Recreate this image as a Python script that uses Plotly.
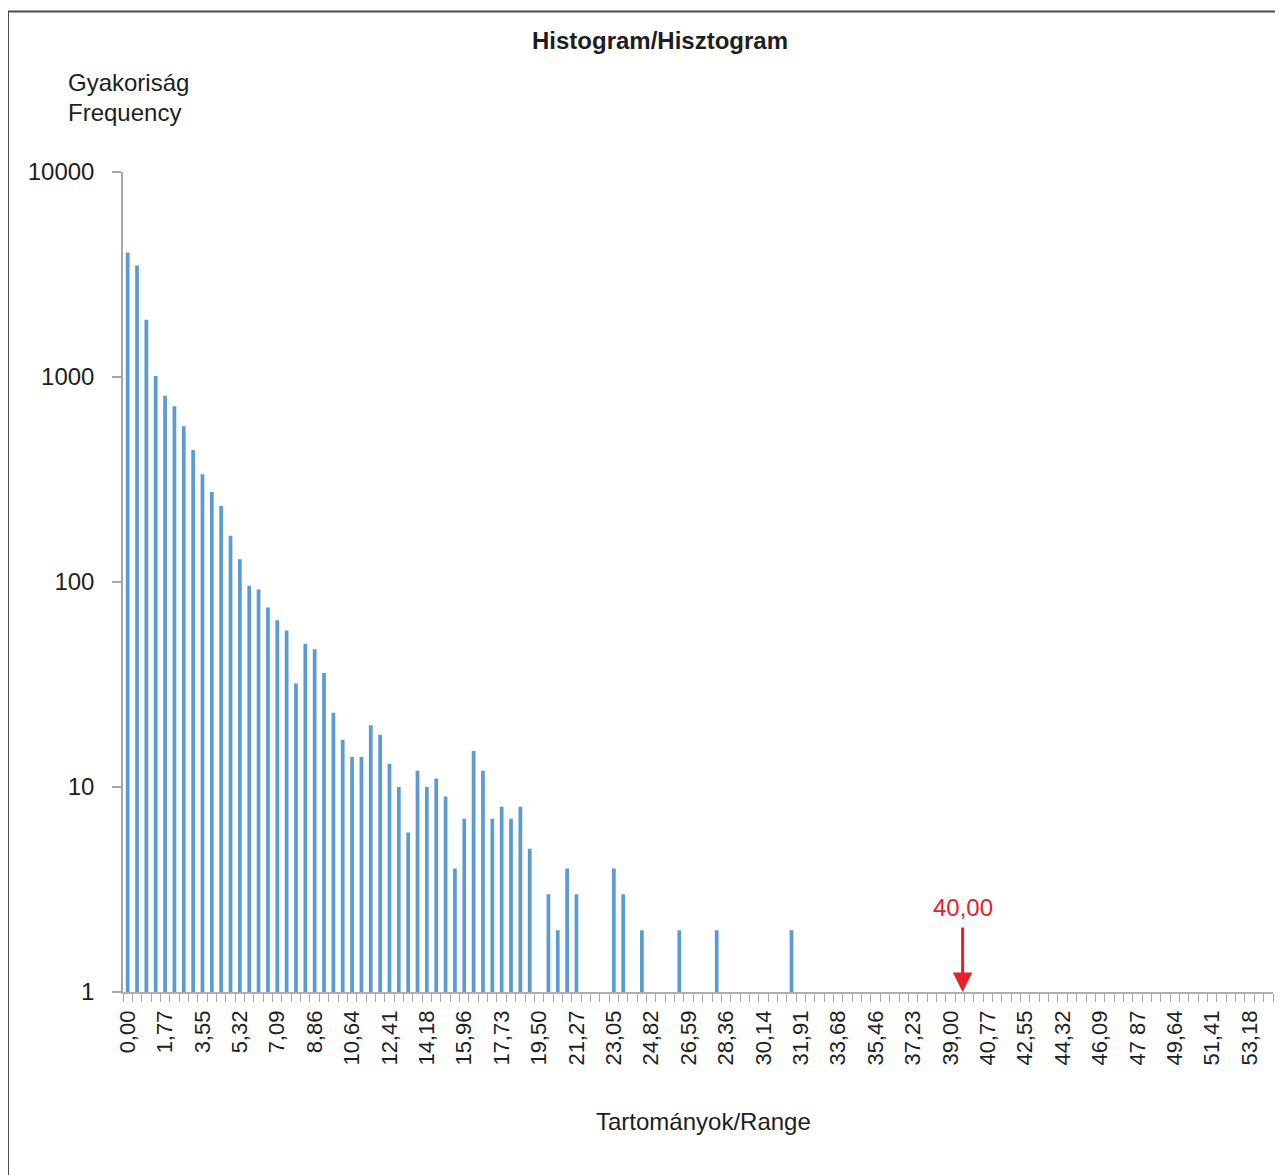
import plotly.graph_objects as go

# ---- data ----
frequencies = [
    4050, 3500, 1900, 1010, 810, 720, 575, 440, 335, 275,
    235, 168, 129, 96, 92, 75, 65, 58, 32, 50,
    47, 36, 23, 17, 14, 14, 20, 18, 13, 10,
    6, 12, 10, 11, 9, 4, 7, 15, 12, 7,
    8, 7, 8, 5, 0, 3, 2, 4, 3, 0,
    0, 0, 4, 3, 0, 2, 0, 0, 0, 2,
    0, 0, 0, 2, 0, 0, 0, 0, 0, 0,
    0, 2, 0, 0, 0, 0, 0, 0, 0, 0,
    0, 0, 0, 0, 0, 0, 0, 0, 0, 0,
    0, 0, 0, 0, 0, 0, 0, 0, 0, 0,
    0, 0, 0, 0, 0, 0, 0, 0, 0, 0,
    0, 0, 0, 0, 0, 0, 0, 0, 0, 0,
    0, 0, 0,
]
tick_labels = ["0,00", "1,77", "3,55", "5,32", "7,09", "8,86", "10,64", "12,41",
               "14,18", "15,96", "17,73", "19,50", "21,27", "23,05", "24,82",
               "26,59", "28,36", "30,14", "31,91", "33,68", "35,46", "37,23",
               "39,00", "40,77", "42,55", "44,32", "46,09", "47 87", "49,64",
               "51,41", "53,18"]
label_every = 4
y_ticks = [1, 10, 100, 1000, 10000]
marker_label = "40,00"
marker_bin = 89.3  # position of 40,00 on the bin axis

title_text = "Histogram/Hisztogram"
y_title_lines = ["Gyakoriság", "Frequency"]
x_title = "Tartományok/Range"

# ---- layout geometry (pixels, in page coordinates; page body adds 8px offset) ----
OFF = 8
FW, FH = 1283 - OFF, 1175 - OFF
PLOT_L, PLOT_R, PLOT_T, PLOT_B = 123, 1273, 172, 992
L = PLOT_L - OFF
T = PLOT_T - OFF
R = FW - (PLOT_R - OFF)
B = FH - (PLOT_B - OFF)
PW, PH = PLOT_R - PLOT_L, PLOT_B - PLOT_T


def px(x):
    return (x - PLOT_L) / PW


def py(y):
    return (PLOT_B - y) / PH


FONT = "Liberation Sans, Arial, Helvetica, sans-serif"
TXT = "#1e1e1e"

bins = list(range(len(frequencies)))
yvals = [v if v > 0 else None for v in frequencies]

fig = go.Figure()
fig.add_trace(go.Bar(
    x=bins, y=yvals, width=0.4,
    marker=dict(color="#5b9bd5", line=dict(width=0)),
    hoverinfo="x+y", showlegend=False,
))

fig.update_layout(
    width=FW, height=FH,
    margin=dict(l=L, r=R, t=T, b=B, pad=0),
    paper_bgcolor="white", plot_bgcolor="white",
    font=dict(family=FONT, color=TXT),
    xaxis=dict(
        range=[-0.5, len(frequencies) - 0.5],
        tickmode="array",
        tickvals=[i * label_every for i in range(len(tick_labels))],
        ticktext=tick_labels,
        tickangle=-90,
        tickfont=dict(size=22, color=TXT),
        ticks="outside", ticklen=8, tickcolor="rgba(0,0,0,0)",
        minor=dict(tick0=0.5, dtick=1, ticks="outside", ticklen=8,
                   tickcolor="#a6a6a6", tickwidth=1, showgrid=False),
        showline=True, linecolor="#b0b0b0", linewidth=1.5,
        showgrid=False, zeroline=False, fixedrange=True,
    ),
    yaxis=dict(
        type="log", range=[0, 4],
        tickmode="array", tickvals=y_ticks, ticktext=[str(v) for v in y_ticks],
        tickfont=dict(size=24, color=TXT),
        ticks="outside", ticklen=9, tickcolor="#a6a6a6", tickwidth=1.5,
        ticklabelstandoff=13,
        showline=True, linecolor="#a6a6a6", linewidth=1.5,
        showgrid=False, zeroline=False, fixedrange=True,
    ),
    bargap=0.6,
)

annotations = [
    dict(text="<b>" + title_text + "</b>", x=px(660), y=py(40), xref="paper", yref="paper",
         xanchor="center", yanchor="middle", showarrow=False,
         font=dict(size=24, color=TXT, family=FONT)),
    dict(text=y_title_lines[0], x=px(66), y=py(83), xref="paper", yref="paper",
         xanchor="left", yanchor="middle", showarrow=False,
         font=dict(size=24, color=TXT, family=FONT)),
    dict(text=y_title_lines[1], x=px(66), y=py(113), xref="paper", yref="paper",
         xanchor="left", yanchor="middle", showarrow=False,
         font=dict(size=24, color=TXT, family=FONT)),
    dict(text=x_title, x=px(703), y=py(1121), xref="paper", yref="paper",
         xanchor="center", yanchor="middle", showarrow=False,
         font=dict(size=24, color=TXT, family=FONT)),
    dict(text=marker_label, x=marker_bin, y=py(907), xref="x", yref="paper",
         xanchor="center", yanchor="middle", showarrow=False,
         font=dict(size=24, color="#e8202a", family=FONT)),
    dict(text="", x=marker_bin, y=0, xref="x", yref="y",
         showarrow=True, ax=0, ay=-66, arrowhead=2, arrowwidth=3,
         arrowsize=1.3, arrowcolor="#e8202a", standoff=0),
]
fig.update_layout(annotations=annotations)

# frame (top and left edges visible)
fig.add_shape(type="line", xref="paper", yref="paper",
              x0=px(8), y0=py(11.5), x1=px(1300), y1=py(11.5),
              line=dict(color="#4a4a4a", width=2))
fig.add_shape(type="line", xref="paper", yref="paper",
              x0=px(8), y0=py(11.5), x1=px(8), y1=py(1200),
              line=dict(color="#4a4a4a", width=2))

fig.write_html("out.html")
